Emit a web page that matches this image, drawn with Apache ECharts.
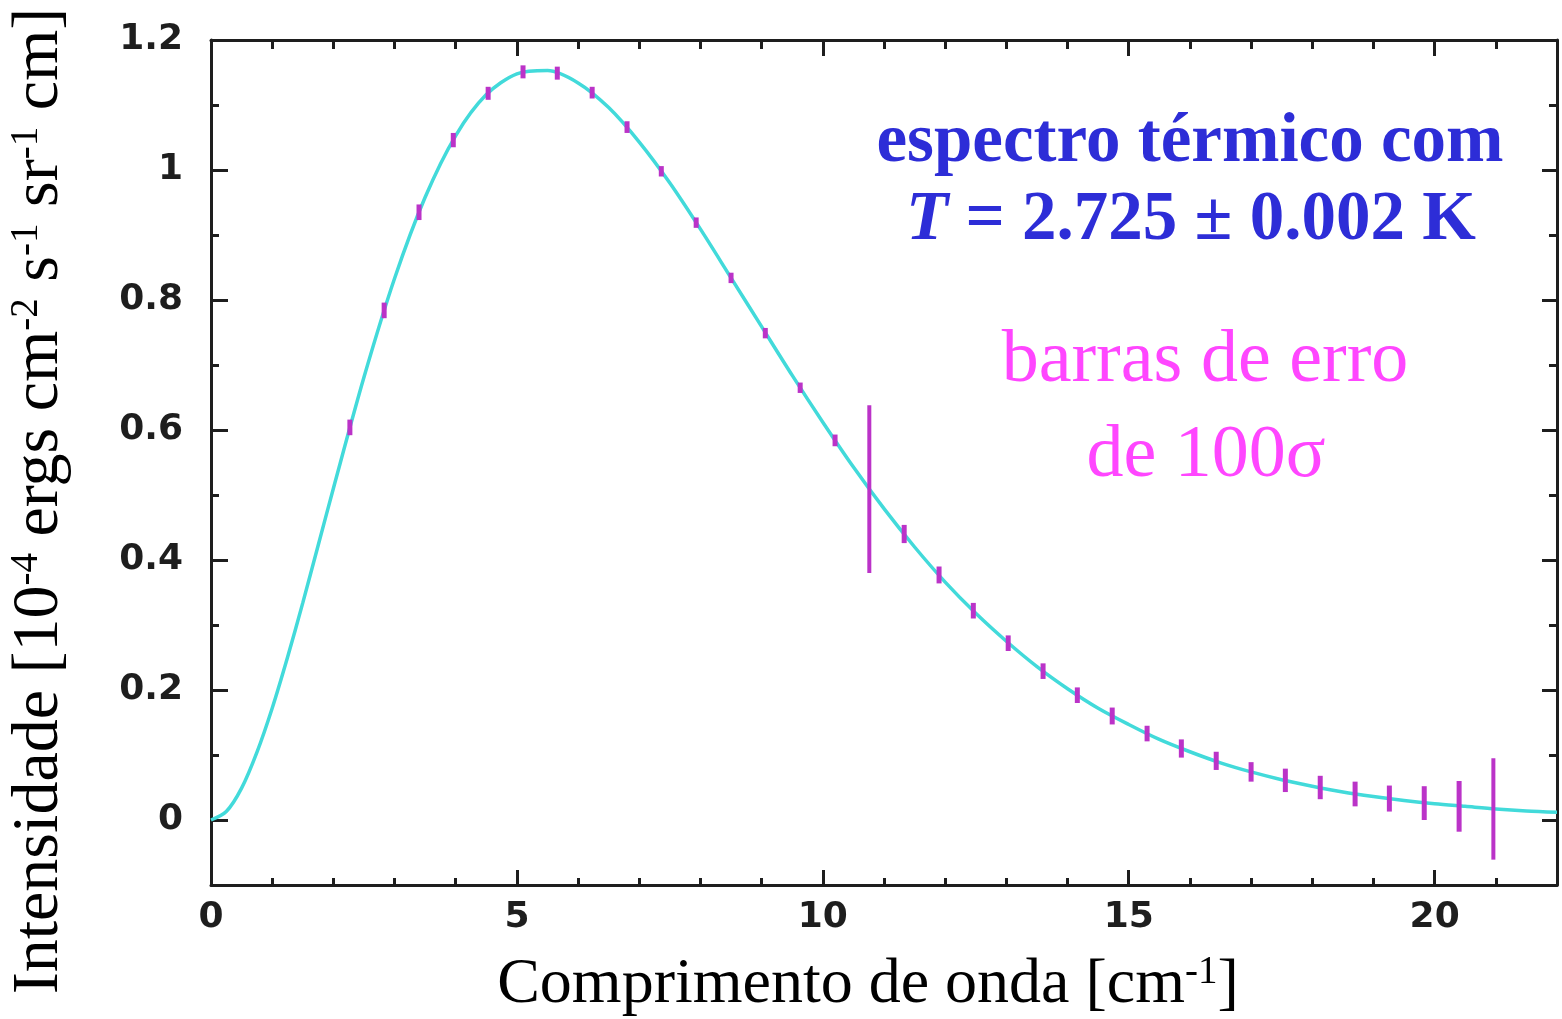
<!DOCTYPE html>
<html><head><meta charset="utf-8">
<script src="https://cdn.jsdelivr.net/npm/echarts@6/dist/echarts.min.js"></script>
<style>html,body{margin:0;padding:0;background:#fff}#c{width:1562px;height:1019px}</style>
</head><body><div id="c"></div>
<script>
// Smooth thermal curve
const curveX = [0,0.25,0.5,0.75,1,1.25,1.5,1.75,2,2.5,3,3.5,4,4.5,5,5.5,6,6.5,7,7.5,8,8.5,9,9.5,10,10.5,11,11.5,12,12.5,13,13.5,14,14.5,15,15.5,16,16.5,17,17.5,18,18.5,19,19.5,20,20.5,21,21.5,22];
const curveY = [0,0.013,0.049,0.104,0.172,0.250,0.334,0.422,0.510,0.681,0.833,0.958,1.053,1.116,1.148,1.153,1.134,1.096,1.043,0.980,0.909,0.834,0.759,0.684,0.612,0.543,0.479,0.420,0.366,0.318,0.275,0.236,0.202,0.172,0.147,0.124,0.105,0.088,0.074,0.062,0.052,0.043,0.036,0.030,0.025,0.021,0.017,0.014,0.012];
// Measured points with 100-sigma error bars
const pointX = [2.27,2.83,3.40,3.96,4.53,5.10,5.66,6.23,6.80,7.36,7.93,8.50,9.06,9.63,10.20,10.76,11.33,11.90,12.46,13.03,13.60,14.16,14.73,15.30,15.86,16.43,17.00,17.56,18.13,18.70,19.26,19.83,20.40,20.96];
const pointY = [0.604,0.784,0.935,1.046,1.118,1.151,1.149,1.119,1.066,0.998,0.919,0.834,0.749,0.665,0.584,0.509,0.440,0.377,0.322,0.272,0.229,0.192,0.160,0.133,0.110,0.091,0.074,0.061,0.050,0.040,0.033,0.026,0.021,0.017];
const pointErr = [0.012,0.012,0.012,0.011,0.010,0.010,0.010,0.009,0.009,0.008,0.008,0.008,0.008,0.008,0.009,0.129,0.014,0.013,0.012,0.012,0.012,0.012,0.013,0.012,0.014,0.014,0.015,0.018,0.018,0.019,0.020,0.026,0.039,0.078];
// Ticks
const xMajorTicks = [0,5,10,15,20];
const xMinorTicks = [1,2,3,4,6,7,8,9,11,12,13,14,16,17,18,19,21];
const yMajorTicks = [0,0.2,0.4,0.6,0.8,1,1.2];
const yMinorTicks = [-0.1,0.1,0.3,0.5,0.7,0.9,1.1];
const xRange = [0,22];
const yRange = [-0.1,1.2];

const AX = '#1e1e1e';
const labelFont = {fontFamily:'DejaVu Sans', fontWeight:'bold', fontSize:36, color:AX};
function xAx(pos, ticks, len, labels, line){
  return {type:'value', position:pos, min:xRange[0], max:xRange[1],
    axisLine:{show:line, onZero:false, lineStyle:{color:AX,width:3}},
    axisTick:{show:true, inside:true, length:len, customValues:ticks, lineStyle:{color:AX,width:3}},
    axisLabel:labels ? Object.assign({show:true, margin:15, customValues:xMajorTicks}, labelFont) : {show:false},
    splitLine:{show:false}};
}
function yAx(pos, ticks, len, labels, line){
  return {type:'value', position:pos, min:yRange[0], max:yRange[1],
    axisLine:{show:line, onZero:false, lineStyle:{color:AX,width:3}},
    axisTick:{show:true, inside:true, length:len, customValues:ticks, lineStyle:{color:AX,width:3}},
    axisLabel:labels ? Object.assign({show:true, margin:28, customValues:yMajorTicks}, labelFont) : {show:false},
    splitLine:{show:false}};
}

const serif = 'Liberation Serif';
const chart = echarts.init(document.getElementById('c'), null, {renderer:'canvas'});
chart.setOption({
  animation:false,
  backgroundColor:'#fff',
  grid:{left:211, top:40, right:5, bottom:134, containLabel:false},
  xAxis:[xAx('bottom', xMajorTicks, 15, true, true), xAx('bottom', xMinorTicks, 7, false, false),
         xAx('top', xMajorTicks, 16, false, true), xAx('top', xMinorTicks, 9, false, false)],
  yAxis:[yAx('left', yMajorTicks, 17, true, true), yAx('left', yMinorTicks, 8, false, false),
         yAx('right', yMajorTicks, 15, false, true), yAx('right', yMinorTicks, 8, false, false)],
  series:[
    {type:'line', xAxisIndex:0, yAxisIndex:0, data:curveX.map((x,i)=>[x,curveY[i]]),
     smooth:0.3, showSymbol:false, lineStyle:{color:'#42dada', width:3.5}, z:2},
    {type:'custom', xAxisIndex:0, yAxisIndex:0, z:3,
     data:pointX.map((x,i)=>[x,pointY[i],pointErr[i]]),
     encode:{x:0,y:1},
     renderItem:function(params, api){
       const x = api.value(0), y = api.value(1), e = api.value(2);
       const p1 = api.coord([x, y - e]), p2 = api.coord([x, y + e]);
       return {type:'line', shape:{x1:p1[0], y1:p1[1], x2:p2[0], y2:p2[1]},
               style:{stroke:'#bb33c8', lineWidth:e > 0.05 ? 4 : 5}};
     }}
  ],
  graphic:[
    {type:'text', x:40, y:501, rotation:Math.PI/2, z:100, style:{
      text:'{b|Intensidade [10}{s|-4}{b| ergs cm}{s|-2}{b| s}{s|-1}{b| sr}{s|-1}{b| cm]}',
      align:'center', verticalAlign:'middle',
      rich:{b:{fontFamily:serif, fontSize:66, fill:'#000', lineHeight:66},
            s:{fontFamily:serif, fontSize:39, fill:'#000', lineHeight:41, verticalAlign:'top'}}}},
    {type:'text', x:868, y:985, z:100, style:{
      text:'{b|Comprimento de onda [cm}{s|-1}{b|]}',
      align:'center', verticalAlign:'middle',
      rich:{b:{fontFamily:serif, fontSize:64, fill:'#000', lineHeight:64},
            s:{fontFamily:serif, fontSize:39, fill:'#000', lineHeight:41, verticalAlign:'top'}}}},
    {type:'text', x:1190, y:143, z:100, style:{text:'espectro térmico com', font:'bold 69px "Liberation Serif"',
      fill:'#2d2dd7', align:'center', verticalAlign:'middle'}},
    {type:'text', x:1191, y:221, z:100, style:{
      text:'{i|T}{n| = 2.725 ± 0.002 K}', align:'center', verticalAlign:'middle',
      rich:{i:{fontFamily:serif, fontSize:69, fontWeight:'bold', fontStyle:'italic', fill:'#2d2dd7'},
            n:{fontFamily:serif, fontSize:69, fontWeight:'bold', fill:'#2d2dd7'}}}},
    {type:'text', x:1205, y:362, z:100, style:{text:'barras de erro', font:'74px "Liberation Serif"',
      fill:'#ff46ff', align:'center', verticalAlign:'middle'}},
    {type:'text', x:1206, y:457, z:100, style:{text:'de 100σ', font:'74px "Liberation Serif"',
      fill:'#ff46ff', align:'center', verticalAlign:'middle'}}
  ]
});
</script></body></html>
